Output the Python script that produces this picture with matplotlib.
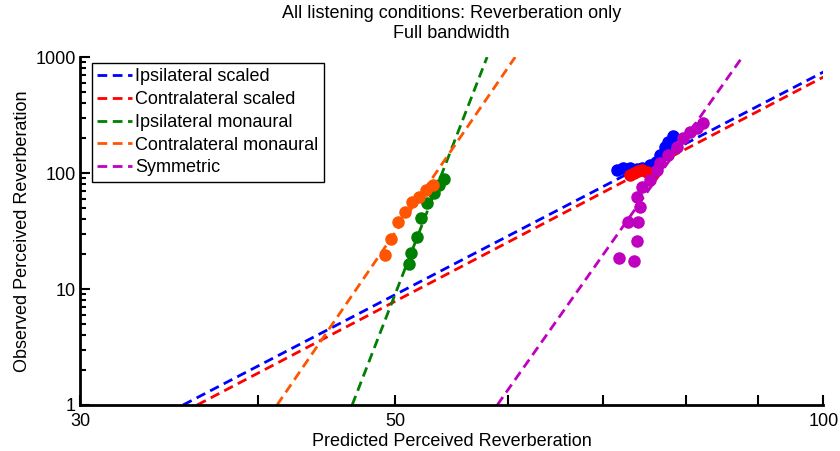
import matplotlib
matplotlib.use('Agg')
import matplotlib.pyplot as plt
from matplotlib.ticker import NullFormatter, FixedLocator, FixedFormatter, LogLocator

plt.rcParams['font.family'] = ['Liberation Sans', 'DejaVu Sans']

# fitted lines (end points, data units)
ipsi_scaled_x = [35.45, 100]
ipsi_scaled_y = [1, 742]
contra_scaled_x = [36.27, 100]
contra_scaled_y = [1, 672]
ipsi_mon_x = [46.62, 58.01]
ipsi_mon_y = [1, 1000]
contra_mon_x = [41.28, 60.71]
contra_mon_y = [1, 1000]
sym_x = [58.97, 87.70]
sym_y = [1, 1000]

# observations
ipsi_scaled_px = [71.6, 72.3, 73.1, 73.9, 74.6, 75.5, 76.2, 76.8, 77.4, 77.8, 78.4]
ipsi_scaled_py = [106, 110, 110, 108, 110, 117, 124, 143, 168, 185, 208]
contra_scaled_px = [73.1, 73.6, 74.1, 74.6, 75.1, 75.5, 75.9]
contra_scaled_py = [96, 100, 104, 106, 102, 98, 100]
ipsi_mon_px = [51.12, 51.29, 51.79, 52.13, 52.63, 53.24, 53.68, 54.12]
ipsi_mon_py = [16.4, 20.4, 28.1, 40.9, 55.1, 67.2, 78.8, 88.8]
contra_mon_px = [49.18, 49.66, 50.22, 50.79, 51.37, 51.96, 52.55, 53.15]
contra_mon_py = [19.6, 27.0, 37.8, 46.1, 56.2, 62.1, 71.3, 78.8]
sym_px = [71.8, 73.6, 74.0, 72.9, 74.1, 74.3, 74.0, 74.6, 75.5, 76.4, 76.8, 77.8, 78.9, 79.7, 80.6, 81.5, 82.3]
sym_py = [18.5, 17.4, 25.9, 37.8, 37.8, 50.9, 62.1, 75.7, 87.1, 106, 122, 143, 168, 200, 226, 244, 270]

names = ['Ipsilateral scaled', 'Contralateral scaled', 'Ipsilateral monaural',
         'Contralateral monaural', 'Symmetric']
colors = ['#0000ff', '#ff0000', '#008000', '#ff5500', '#bf00bf']

fig = plt.figure(figsize=(8.4, 4.51), dpi=100)
ax = fig.add_axes([0.0952, 0.102, 0.885, 0.7716])

lines = [(ipsi_scaled_x, ipsi_scaled_y), (contra_scaled_x, contra_scaled_y),
         (ipsi_mon_x, ipsi_mon_y), (contra_mon_x, contra_mon_y), (sym_x, sym_y)]
pts = [(ipsi_scaled_px, ipsi_scaled_py), (contra_scaled_px, contra_scaled_py),
       (ipsi_mon_px, ipsi_mon_py), (contra_mon_px, contra_mon_py), (sym_px, sym_py)]

for (lx, ly), c, n in zip(lines, colors, names):
    ax.plot(lx, ly, '--', color=c, lw=2, label=n, dashes=(3.5, 2), zorder=2)
for (px, py), c in zip(pts, colors):
    ax.plot(px, py, 'o', color=c, ms=8, mec=c, zorder=3)

ax.set_xscale('log')
ax.set_yscale('log')
ax.set_xlim(30, 100)
ax.set_ylim(1, 1000)

ax.xaxis.set_major_locator(FixedLocator([30, 40, 50, 60, 70, 80, 90, 100]))
ax.xaxis.set_major_formatter(FixedFormatter(['30', '', '50', '', '', '', '', '100']))
ax.xaxis.set_minor_locator(FixedLocator([]))
ax.yaxis.set_major_locator(FixedLocator([1, 10, 100, 1000]))
ax.yaxis.set_major_formatter(FixedFormatter(['1', '10', '100', '1000']))
ax.yaxis.set_minor_locator(LogLocator(base=10, subs=range(2, 10)))
ax.yaxis.set_minor_formatter(NullFormatter())

ax.tick_params(which='major', direction='in', length=7, width=1.5, labelsize=13, pad=3)
ax.tick_params(axis='x', which='major', pad=6)
ax.tick_params(which='minor', direction='in', length=4, width=1.5)
for s in ['top', 'right']:
    ax.spines[s].set_visible(False)
for s in ['left', 'bottom']:
    ax.spines[s].set_linewidth(2)

ax.set_xlabel('Predicted Perceived Reverberation', fontsize=13, labelpad=2)
ax.set_ylabel('Observed Perceived Reverberation', fontsize=13, labelpad=3)
ax.set_title('All listening conditions: Reverberation only\nFull bandwidth', fontsize=13,
             linespacing=1.2, pad=14)

leg = ax.legend(loc='upper left', fontsize=13, handlelength=1.95, handletextpad=0.15,
                borderpad=0.3, labelspacing=0.32, fancybox=False, framealpha=1,
                borderaxespad=0, bbox_to_anchor=(0.016, 0.983))
leg.get_frame().set_edgecolor('black')
leg.get_frame().set_linewidth(1)

fig.savefig('out.png', dpi=100)
